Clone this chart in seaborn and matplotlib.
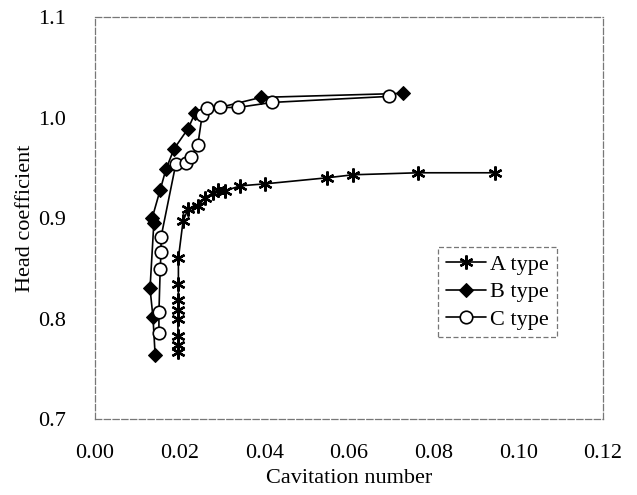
import matplotlib
matplotlib.use("Agg")
import matplotlib.pyplot as plt
import seaborn as sns
import pandas as pd

sns.set_theme(style="white")
plt.rcParams['font.family'] = ['Liberation Serif', 'DejaVu Serif']
plt.rcParams['text.color'] = 'black'
plt.rcParams['axes.labelcolor'] = 'black'

# A type (asterisk)
a_x = [0.0196, 0.0196, 0.0196, 0.0196, 0.0196, 0.0197, 0.0197, 0.0197,
       0.0208, 0.0220, 0.0243, 0.0260, 0.0279, 0.0291, 0.0307, 0.0343,
       0.0402, 0.0548, 0.0609, 0.0763, 0.0945]
a_y = [0.767, 0.774, 0.783, 0.800, 0.808, 0.818, 0.834, 0.860,
       0.897, 0.909, 0.912, 0.920, 0.925, 0.928, 0.927, 0.932,
       0.934, 0.940, 0.943, 0.945, 0.945]

# B type (filled diamond)
b_x = [0.0142, 0.0137, 0.0130, 0.0139, 0.0135, 0.0154, 0.0168, 0.0187,
       0.0220, 0.0236, 0.0392, 0.0728]
b_y = [0.764, 0.801, 0.830, 0.895, 0.900, 0.928, 0.949, 0.969,
       0.989, 1.004, 1.020, 1.024]

# C type (open circle)
c_x = [0.0151, 0.0151, 0.0154, 0.0156, 0.0156, 0.0191, 0.0215, 0.0227,
       0.0243, 0.0253, 0.0265, 0.0295, 0.0338, 0.0418, 0.0695]
c_y = [0.786, 0.806, 0.849, 0.866, 0.881, 0.954, 0.955, 0.961,
       0.973, 1.002, 1.009, 1.010, 1.010, 1.015, 1.021]

x_ticks = [0.00, 0.02, 0.04, 0.06, 0.08, 0.10, 0.12]
y_ticks = [0.7, 0.8, 0.9, 1.0, 1.1]

fig = plt.figure(figsize=(6.37, 4.95), dpi=100)
ax = fig.add_axes([95/637, 1-419/495, 508/637, 402/495])

dfa = pd.DataFrame({"x": a_x, "y": a_y})
dfb = pd.DataFrame({"x": b_x, "y": b_y})
dfc = pd.DataFrame({"x": c_x, "y": c_y})

sns.lineplot(data=dfa, x="x", y="y", ax=ax, sort=False, estimator=None,
             color="black", linewidth=1.2, marker=(6, 2, 0), markersize=10,
             markeredgewidth=1.7, markeredgecolor="black", label="A type")
sns.lineplot(data=dfb, x="x", y="y", ax=ax, sort=False, estimator=None,
             color="black", linewidth=1.2, marker="D", markersize=7,
             markerfacecolor="black", markeredgecolor="black", label="B type")
sns.lineplot(data=dfc, x="x", y="y", ax=ax, sort=False, estimator=None,
             color="black", linewidth=1.2, marker="o", markersize=9,
             markerfacecolor="white", markeredgecolor="black",
             markeredgewidth=1.2, label="C type")

ax.set_xlim(0, 0.12)
ax.set_ylim(0.7, 1.1)
ax.set_xticks(x_ticks)
ax.set_xticklabels([f"{v:.2f}" for v in x_ticks])
ax.set_yticks(y_ticks)
ax.set_yticklabels([f"{v:.1f}" for v in y_ticks])
ax.tick_params(axis="both", labelsize=16, colors="black", length=0)
ax.tick_params(axis="x", pad=18)
ax.tick_params(axis="y", pad=21)
ax.set_xlabel("Cavitation number", fontsize=16, labelpad=4, color="black")
ax.set_ylabel("Head coefficient", fontsize=16, labelpad=2, color="black")

for s in ax.spines.values():
    s.set_visible(True)
    s.set_color("#777777")
    s.set_linewidth(0.9)
    s.set_linestyle((0, (5, 2)))

leg = ax.legend(loc="upper left", bbox_to_anchor=(0.675, 0.428),
                borderaxespad=0, fontsize=16, handlelength=1.8,
                handletextpad=0.2, labelspacing=0.3, borderpad=0.35,
                fancybox=False, framealpha=1)
leg.get_frame().set_edgecolor("#777777")
leg.get_frame().set_linestyle((0, (4, 2)))
leg.get_frame().set_linewidth(0.9)
for t in leg.get_texts():
    t.set_color("black")

fig.savefig("out.png", dpi=100)
